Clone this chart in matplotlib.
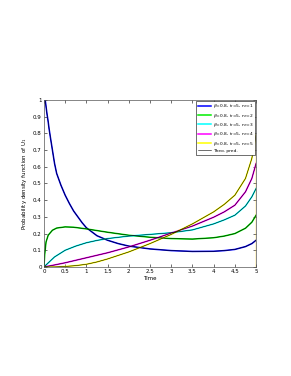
import numpy as np
import matplotlib.pyplot as plt

plt.rcParams.update({'font.size': 4})

# values
t_blue = [0.03, 0.05, 0.07, 0.1, 0.12, 0.15, 0.2, 0.25, 0.3, 0.4, 0.5, 0.6, 0.7, 0.8, 0.9, 1.0,
          1.25, 1.5, 1.75, 2.0, 2.5, 3.0, 3.5, 4.0, 4.25, 4.5, 4.75, 4.9, 5.0]
y_blue = [1.0, 0.96, 0.92, 0.87, 0.83, 0.78, 0.70, 0.62, 0.56, 0.49, 0.43, 0.38, 0.335, 0.30, 0.265, 0.235,
          0.187, 0.16, 0.14, 0.125, 0.108, 0.098, 0.093, 0.094, 0.098, 0.105, 0.122, 0.14, 0.16]

t_green = [0.0, 0.02, 0.05, 0.1, 0.2, 0.3, 0.5, 0.7, 1.0, 1.25, 1.5, 2.0, 2.5,
           3.0, 3.5, 4.0, 4.25, 4.5, 4.75, 4.9, 5.0]
y_green = [0.0, 0.08, 0.15, 0.19, 0.22, 0.233, 0.24, 0.238, 0.228, 0.218, 0.208, 0.19, 0.178,
           0.17, 0.167, 0.175, 0.185, 0.2, 0.232, 0.268, 0.31]

t_other = [0.0, 0.25, 0.5, 0.75, 1.0, 1.25, 1.5, 2.0, 2.5, 3.0, 3.5, 4.0, 4.25, 4.5, 4.75, 4.9, 5.0]
y_cyan = [0.0, 0.06, 0.1, 0.125, 0.145, 0.159, 0.17, 0.185, 0.195, 0.205, 0.222, 0.258, 0.282,
          0.31, 0.365, 0.42, 0.47]
y_magenta = [0.0, 0.012, 0.025, 0.04, 0.055, 0.07, 0.085, 0.12, 0.16, 0.203, 0.245, 0.298, 0.33,
             0.37, 0.45, 0.53, 0.62]
y_yellow = [0.0, 0.0, 0.003, 0.008, 0.016, 0.03, 0.048, 0.09, 0.14, 0.195, 0.258, 0.33, 0.375,
            0.43, 0.53, 0.65, 0.79]

series = [(t_blue, y_blue), (t_green, y_green), (t_other, y_cyan),
          (t_other, y_magenta), (t_other, y_yellow)]
colores = ['#0000ff', '#00ee00', '#00ffff', '#ff00ff', '#ffff00']
leyendas = [r'$\beta$=0.8, t$_r$=5, n$_r$=%d' % n for n in range(1, 6)]

fig = plt.figure(figsize=(2.91, 3.76), dpi=100)
ax = fig.add_axes([0.151, 0.290, 0.729, 0.444])

for (t, y), c, lab in zip(series, colores, leyendas):
    ax.plot(t, y, color=c, linewidth=1.1, label=lab)
# histogram edge at the end of the last series
ax.plot([t_other[-1], t_other[-1]], [y_yellow[-1], 0], color='#ffcc00', linewidth=1.0)

for i, (t, y) in enumerate(series):
    ax.plot(t, y, color='k', linewidth=0.4, label='Theo. pred.' if i == 0 else None)

ax.set_xlim(0, 5)
ax.set_ylim(0, 1)
ax.set_xticks(np.arange(0, 5.01, 0.5))
ax.set_xticklabels(['0', '0.5', '1', '1.5', '2', '2.5', '3', '3.5', '4', '4.5', '5'])
ax.set_yticks(np.arange(0, 1.01, 0.1))
ax.set_yticklabels(['0', '0.1', '0.2', '0.3', '0.4', '0.5', '0.6', '0.7', '0.8', '0.9', '1'])
ax.tick_params(direction='in', top=True, right=True, length=2, width=0.4, pad=1.5)
for s in ax.spines.values():
    s.set_linewidth(0.5)
    s.set_color('#555555')
ax.set_xlabel('Time', labelpad=1.5)
ax.set_ylabel(r'Probability density function of U$_1$', labelpad=3)

h, l = ax.get_legend_handles_labels()
leg = ax.legend(h, l, loc='upper right', fontsize=3.2, borderaxespad=0.15,
                fancybox=False, edgecolor='k', framealpha=1, handlelength=3.0,
                handletextpad=0.4, labelspacing=0.3, borderpad=0.35)
leg.get_frame().set_linewidth(0.4)

fig.savefig('out.png', dpi=100)
